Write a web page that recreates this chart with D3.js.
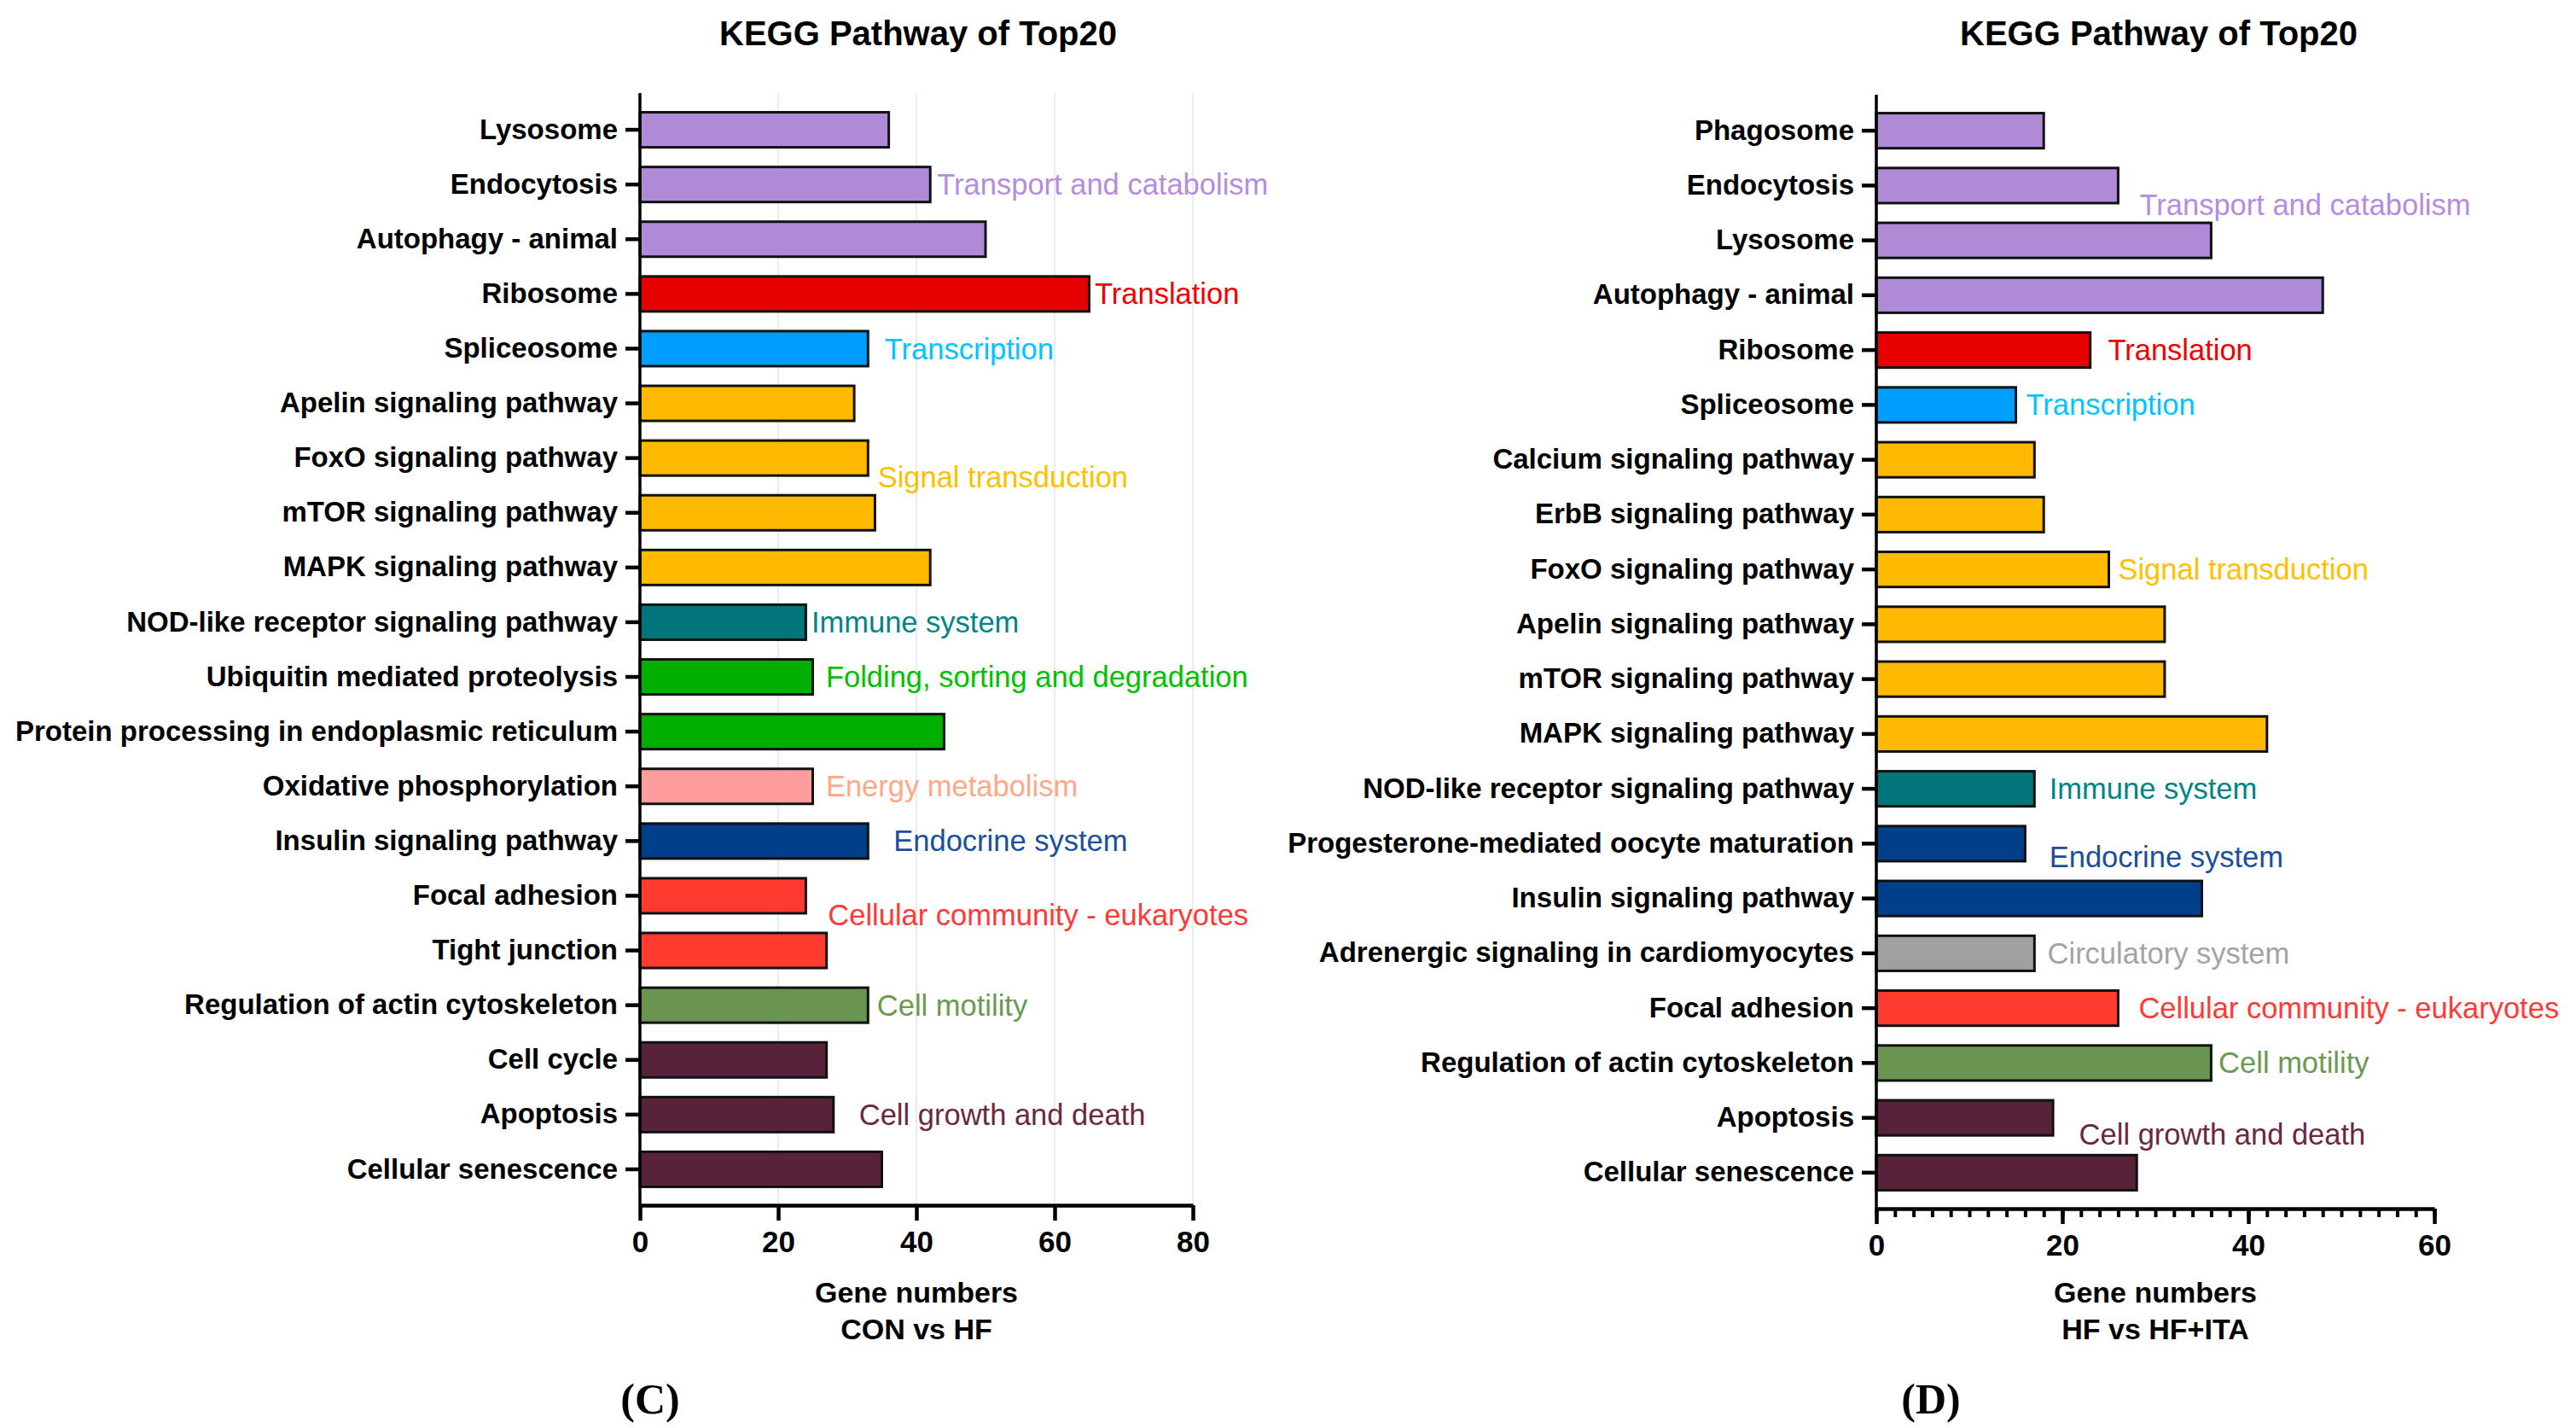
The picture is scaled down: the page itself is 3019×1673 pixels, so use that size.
<!DOCTYPE html>
<html>
<head>
<meta charset="utf-8">
<script src="https://cdn.jsdelivr.net/npm/d3@7"></script>
<style>
  body { margin: 0; background: #fff; }
  text { font-family: "Liberation Sans", Arial, sans-serif; }
</style>
</head>
<body>
<script>
// === data, panel C (CON vs HF)
var pathwaysC = ['Lysosome', 'Endocytosis', 'Autophagy - animal', 'Ribosome', 'Spliceosome',
  'Apelin signaling pathway', 'FoxO signaling pathway', 'mTOR signaling pathway', 'MAPK signaling pathway',
  'NOD-like receptor signaling pathway', 'Ubiquitin mediated proteolysis',
  'Protein processing in endoplasmic reticulum', 'Oxidative phosphorylation', 'Insulin signaling pathway',
  'Focal adhesion', 'Tight junction', 'Regulation of actin cytoskeleton', 'Cell cycle', 'Apoptosis',
  'Cellular senescence'];
var genesC = [36, 42, 50, 65, 33, 31, 33, 34, 42, 24, 25, 44, 25, 33, 24, 27, 33, 27, 28, 35];
var classC = ['transport', 'transport', 'transport', 'translation', 'transcription',
  'signal', 'signal', 'signal', 'signal', 'immune', 'folding', 'folding', 'energy', 'endocrine',
  'community', 'community', 'motility', 'growth', 'growth', 'growth'];
// class labels: [class, gene-number position, row position]
var notesC = [
  ['transport', 43, 1], ['translation', 65.8, 3], ['transcription', 35.4, 4], ['signal', 34.4, 6.35],
  ['immune', 24.8, 9], ['folding', 26.9, 10], ['energy', 26.9, 12], ['endocrine', 36.7, 13],
  ['community', 27.2, 14.35], ['motility', 34.3, 16], ['growth', 31.7, 18]
];

// === data, panel D (HF vs HF+ITA)
var pathwaysD = ['Phagosome', 'Endocytosis', 'Lysosome', 'Autophagy - animal', 'Ribosome', 'Spliceosome',
  'Calcium signaling pathway', 'ErbB signaling pathway', 'FoxO signaling pathway', 'Apelin signaling pathway',
  'mTOR signaling pathway', 'MAPK signaling pathway', 'NOD-like receptor signaling pathway',
  'Progesterone-mediated oocyte maturation', 'Insulin signaling pathway',
  'Adrenergic signaling in cardiomyocytes', 'Focal adhesion', 'Regulation of actin cytoskeleton',
  'Apoptosis', 'Cellular senescence'];
var genesD = [18, 26, 36, 48, 23, 15, 17, 18, 25, 31, 31, 42, 17, 16, 35, 17, 26, 36, 19, 28];
var classD = ['transport', 'transport', 'transport', 'transport', 'translation', 'transcription',
  'signal', 'signal', 'signal', 'signal', 'signal', 'signal', 'immune', 'endocrine', 'endocrine',
  'circulatory', 'community', 'motility', 'growth', 'growth'];
var notesD = [
  ['transport', 28.3, 1.35], ['translation', 24.9, 4], ['transcription', 16.1, 5], ['signal', 26.0, 8],
  ['immune', 18.6, 12], ['endocrine', 18.6, 13.24], ['circulatory', 18.4, 15], ['community', 28.2, 16],
  ['motility', 36.8, 17], ['growth', 21.8, 18.3]
];

var classNames = {
  transport: 'Transport and catabolism', translation: 'Translation', transcription: 'Transcription',
  signal: 'Signal transduction', immune: 'Immune system', folding: 'Folding, sorting and degradation',
  energy: 'Energy metabolism', endocrine: 'Endocrine system', community: 'Cellular community - eukaryotes',
  motility: 'Cell motility', growth: 'Cell growth and death', circulatory: 'Circulatory system'
};

// bar fills and label colours
var barColor = {
  transport: '#af8bd7', translation: '#e60000', transcription: '#009fff', signal: '#ffba00',
  immune: '#00767a', folding: '#00b000', energy: '#ff9c9c', endocrine: '#00408a',
  community: '#ff3b30', motility: '#699550', growth: '#57223a', circulatory: '#a0a0a0'
};
var textColor = {
  transport: '#b48ce0', translation: '#f00000', transcription: '#00c4ff', signal: '#ffc000',
  immune: '#008488', folding: '#00c000', energy: '#ffa888', endocrine: '#1a4f9c',
  community: '#ff3838', motility: '#6a9a50', growth: '#6a2845', circulatory: '#a3a3a3'
};

var svg = d3.select('body').append('svg')
  .attr('width', 3019)
  .attr('height', 1673);

function drawPanel(p) {
  var x = d3.scaleLinear().domain([0, p.max]).range([p.x0, p.x1]);
  var y = d3.scaleBand().domain(p.names).range([p.y0, p.y1]).paddingInner(0.36).paddingOuter(0.18);
  var g = svg.append('g');

  // faint grid lines
  if (p.grid) {
    g.selectAll('.grid').data(p.ticks.slice(1)).enter().append('line')
      .attr('x1', d => x(d)).attr('x2', d => x(d))
      .attr('y1', p.axTop).attr('y2', p.axBottom)
      .style('stroke', '#ebebeb').style('stroke-width', 2);
  }

  // bars
  g.selectAll('.bar').data(p.names).enter().append('rect')
    .attr('x', x(0))
    .attr('y', d => y(d))
    .attr('width', (d, i) => x(p.values[i]) - x(0))
    .attr('height', y.bandwidth())
    .style('fill', (d, i) => barColor[p.classes[i]])
    .style('stroke', '#111')
    .style('stroke-width', 3);

  // y axis
  var yAxis = g.append('g')
    .attr('transform', `translate(${x(0)},0)`)
    .call(d3.axisLeft(y).tickSize(17).tickPadding(9));
  yAxis.select('.domain').remove();
  yAxis.selectAll('.tick line').style('stroke', '#000').style('stroke-width', 4.5);
  yAxis.selectAll('.tick text')
    .style('font-size', '33px').style('font-weight', 'bold').style('fill', '#000')
    .style('font-family', '"Liberation Sans", Arial, sans-serif');
  g.append('line')
    .attr('x1', x(0)).attr('x2', x(0))
    .attr('y1', p.axTop).attr('y2', p.axBottom)
    .style('stroke', '#000').style('stroke-width', 3.5);

  // x axis
  if (p.minor) {
    var minor = g.append('g')
      .attr('transform', `translate(0,${p.axBottom})`)
      .call(d3.axisBottom(x).tickValues(d3.range(0, p.max + 1, p.minor)).tickSize(10).tickFormat(''));
    minor.select('.domain').remove();
    minor.selectAll('.tick line').style('stroke', '#000').style('stroke-width', 4);
  }
  var xAxis = g.append('g')
    .attr('transform', `translate(0,${p.axBottom})`)
    .call(d3.axisBottom(x).tickValues(p.ticks).tickSize(18).tickSizeOuter(0).tickPadding(12));
  xAxis.select('.domain').style('stroke', '#000').style('stroke-width', 4.5);
  xAxis.selectAll('.tick line').style('stroke', '#000').style('stroke-width', 4.5);
  xAxis.selectAll('.tick text')
    .style('font-size', '35px').style('font-weight', 'bold').style('fill', '#000')
    .style('font-family', '"Liberation Sans", Arial, sans-serif');

  // class labels
  var step = y.step();
  var firstRow = y(p.names[0]) + y.bandwidth() / 2;
  g.selectAll('.note').data(p.notes).enter().append('text')
    .text(d => classNames[d[0]])
    .attr('x', d => x(d[1]))
    .attr('y', d => firstRow + d[2] * step)
    .attr('dy', '0.35em')
    .style('font-size', '34.5px')
    .style('fill', d => textColor[d[0]]);

  var mid = (p.x0 + p.x1) / 2;
  // title
  g.append('text')
    .text('KEGG Pathway of Top20')
    .attr('x', p.titleX).attr('y', 39).attr('dy', '0.35em')
    .attr('text-anchor', 'middle')
    .style('font-size', '40px').style('font-weight', 'bold');

  // x label
  g.append('text')
    .text('Gene numbers')
    .attr('x', mid).attr('y', 1514).attr('dy', '0.35em')
    .attr('text-anchor', 'middle')
    .style('font-size', '34px').style('font-weight', 'bold');
  g.append('text')
    .text(p.compare)
    .attr('x', mid).attr('y', 1557).attr('dy', '0.35em')
    .attr('text-anchor', 'middle')
    .style('font-size', '34px').style('font-weight', 'bold');

  // panel letter
  g.append('text')
    .text(p.letter)
    .attr('x', p.letterX).attr('y', 1638).attr('dy', '0.35em')
    .attr('text-anchor', 'middle')
    .style('font-family', '"Liberation Serif", "Times New Roman", serif')
    .style('font-weight', 'bold')
    .style('font-size', '50px');
}

drawPanel({
  names: pathwaysC, values: genesC, classes: classC, notes: notesC,
  max: 80, ticks: [0, 20, 40, 60, 80], minor: 0, grid: true,
  x0: 750, x1: 1398, y0: 120, y1: 1402, axTop: 109, axBottom: 1412,
  titleX: 1076, compare: 'CON vs HF', letter: '(C)', letterX: 762
});

drawPanel({
  names: pathwaysD, values: genesD, classes: classD, notes: notesD,
  max: 60, ticks: [0, 20, 40, 60], minor: 2, grid: false,
  x0: 2199, x1: 2853, y0: 121, y1: 1406, axTop: 111, axBottom: 1416,
  titleX: 2530, compare: 'HF vs HF+ITA', letter: '(D)', letterX: 2263
});
</script>
</body>
</html>
